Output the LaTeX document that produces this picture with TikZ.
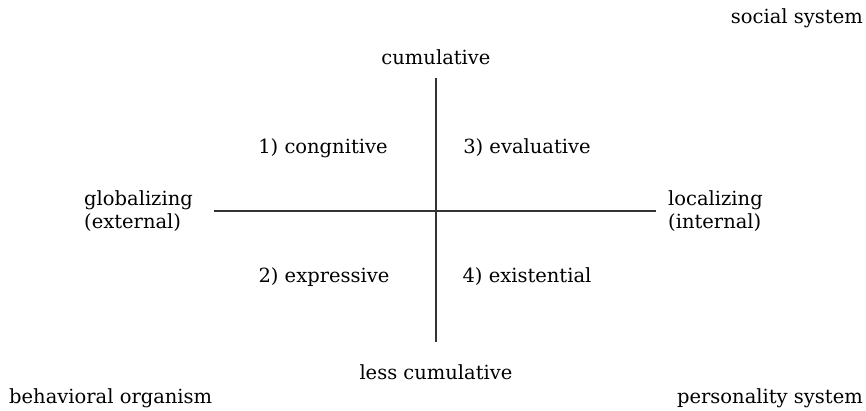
\documentclass[tikz,border=0pt]{standalone}
\usepackage{fontspec}
\setmainfont{DejaVu Serif}
\begin{document}
\begin{tikzpicture}[x=1pt,y=-1pt,
  lbl/.style={inner sep=0pt, font=\fontsize{19.5}{22.5}\selectfont},
  axis/.style={line width=1.2pt, black!80}]
\useasboundingbox (0,0) rectangle (866,411);
% axes
\coordinate (top) at (436,78);
\coordinate (bot) at (436,342);
\coordinate (lft) at (214,211);
\coordinate (rgt) at (656,211);
\draw[axis] (top) -- (bot);
\draw[axis] (lft) -- (rgt);
% axis labels
\node[lbl] (cum) at (436,57) {cumulative};
\node[lbl] (lesscum) at (436,372) {less cumulative};
\node[lbl, anchor=west, align=left] (glob) at (84,211) {globalizing\\(external)};
\node[lbl, anchor=west, align=left] (loc) at (668,211) {localizing\\(internal)};
% quadrants
\node[lbl] (q1) at (323,148) {1) congnitive};
\node[lbl] (q3) at (527,148) {3) evaluative};
\node[lbl] (q2) at (324,277) {2) expressive};
\node[lbl] (q4) at (527,277) {4) existential};
% corners
\node[lbl, anchor=east] (soc) at (863,18) {social system};
\node[lbl, anchor=west] (beh) at (9,398) {behavioral organism};
\node[lbl, anchor=east] (pers) at (863,398) {personality system};
\end{tikzpicture}
\end{document}
